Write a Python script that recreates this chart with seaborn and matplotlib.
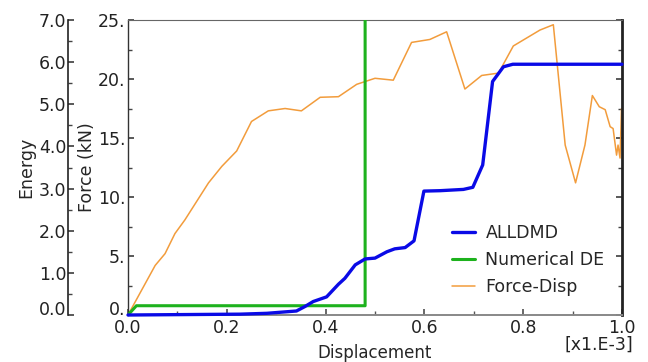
import numpy as np
import pandas as pd
import matplotlib
matplotlib.use("Agg")
import matplotlib.pyplot as plt
from matplotlib.ticker import MultipleLocator, FuncFormatter
from matplotlib.lines import Line2D
import seaborn as sns

sns.set_theme(style="white")
plt.rcParams["font.family"] = ["DejaVu Sans"]

# Force-displacement response (displacement in 1e-3 units, force in kN)
fd_disp = [0.0, 0.055, 0.075, 0.095, 0.115, 0.163, 0.19, 0.22, 0.25, 0.284,
           0.318, 0.351, 0.389, 0.426, 0.463, 0.5, 0.537, 0.574, 0.611, 0.645,
           0.682, 0.716, 0.75, 0.78, 0.834, 0.861, 0.885, 0.906, 0.925, 0.94,
           0.954, 0.966, 0.976, 0.982, 0.989, 0.992, 0.996, 0.999]
fd_force = [0.0, 4.2, 5.2, 6.9, 8.05, 11.2, 12.6, 13.9, 16.4, 17.3,
            17.5, 17.3, 18.45, 18.5, 19.55, 20.06, 19.9, 23.1, 23.35, 24.0,
            19.15, 20.3, 20.5, 22.8, 24.15, 24.6, 14.4, 11.2, 14.4, 18.6,
            17.65, 17.4, 15.96, 15.8, 13.55, 14.4, 13.3, 17.5]

# Damage dissipation energy ALLDMD
dmd_disp = [0.0, 0.227, 0.281, 0.341, 0.358, 0.375, 0.402, 0.426, 0.439, 0.46,
            0.48, 0.5, 0.524, 0.54, 0.561, 0.579, 0.599, 0.632, 0.679, 0.698,
            0.718, 0.738, 0.76, 0.779, 1.0]
dmd_energy = [0.0, 0.02, 0.04, 0.095, 0.2, 0.32, 0.43, 0.73, 0.87, 1.19,
              1.33, 1.35, 1.5, 1.57, 1.6, 1.76, 2.94, 2.95, 2.98, 3.03,
              3.56, 5.54, 5.89, 5.95, 5.95]

# Numerical dissipated energy
nde_disp = [0.0, 0.017, 0.48, 0.48]
nde_energy = [0.0, 0.22, 0.22, 50.0]

series_labels = ["ALLDMD", "Numerical DE", "Force-Disp"]
colors = {"ALLDMD": "#0a0ae6", "Numerical DE": "#1db21d", "Force-Disp": "#f29c3c"}

fd = pd.DataFrame({"disp": fd_disp, "value": fd_force})
dmd = pd.DataFrame({"disp": dmd_disp, "value": dmd_energy})
nde = pd.DataFrame({"disp": nde_disp, "value": nde_energy})

fig = plt.figure(figsize=(6.48, 3.62), dpi=100)
ax = fig.add_axes([128 / 648, 47 / 362, 494 / 648, 295 / 362])
ax2 = ax.twinx()

sns.lineplot(data=fd, x="disp", y="value", ax=ax, color=colors["Force-Disp"],
             lw=1.1, sort=False, estimator=None)
sns.lineplot(data=nde, x="disp", y="value", ax=ax2, color=colors["Numerical DE"],
             lw=2.2, sort=False, estimator=None)
sns.lineplot(data=dmd, x="disp", y="value", ax=ax2, color=colors["ALLDMD"],
             lw=2.4, sort=False, estimator=None, clip_on=False)

fs = 12.5
# Main (force) axis
ax.set_xlim(0, 1.0)
ax.set_ylim(0, 25)
ax.xaxis.set_major_locator(MultipleLocator(0.2))
ax.xaxis.set_minor_locator(MultipleLocator(0.1))
ax.yaxis.set_major_locator(MultipleLocator(5))
ax.yaxis.set_minor_locator(MultipleLocator(2.5))
ax.xaxis.set_major_formatter(FuncFormatter(lambda v, p: f"{v:.1f}"))
ax.yaxis.set_major_formatter(FuncFormatter(lambda v, p: f"{v:.0f}."))
ax.tick_params(axis="x", which="both", direction="in", bottom=True, top=False,
               labelsize=fs, pad=3, color="#555555")
ax.tick_params(axis="x", which="major", length=4)
ax.tick_params(axis="x", which="minor", length=3)
ax.tick_params(axis="y", which="both", direction="in", left=True, right=True,
               labelsize=fs, pad=2, color="#444444")
ax.tick_params(axis="y", which="major", length=4)
ax.tick_params(axis="y", which="minor", length=3)
ax.set_xlabel("Displacement", fontsize=12, labelpad=5)
ax.set_ylabel("Force (kN)", fontsize=12.5, labelpad=1)
ax.text((633 - 128) / 494, -0.07, "[x1.E-3]", transform=ax.transAxes, ha="right",
        va="top", fontsize=12.5, color="#222222")

ax.spines["top"].set_color("#666666")
ax.spines["top"].set_linewidth(0.8)
ax.spines["left"].set_color("#333333")
ax.spines["left"].set_linewidth(1.0)
ax.spines["bottom"].set_color("#888888")
ax.spines["bottom"].set_linewidth(1.4)
ax.spines["right"].set_color("#222222")
ax.spines["right"].set_linewidth(2.0)

# Energy axis, offset to the left of the force axis
ax2.set_ylim(0, 7)
ax2.yaxis.set_ticks_position("left")
ax2.yaxis.set_label_position("left")
ax2.spines["left"].set_visible(True)
ax2.spines["left"].set_position(("axes", -60 / 494))
ax2.spines["left"].set_color("#222222")
ax2.spines["left"].set_linewidth(1.2)
for side in ("right", "top", "bottom"):
    ax2.spines[side].set_visible(False)
ax2.yaxis.set_major_locator(MultipleLocator(1))
ax2.yaxis.set_minor_locator(MultipleLocator(0.5))
ax2.yaxis.set_major_formatter(FuncFormatter(lambda v, p: f"{v:.1f}"))
ax2.tick_params(axis="y", which="both", direction="in", labelsize=fs, pad=1,
                color="#444444")
ax2.tick_params(axis="y", which="major", length=4)
ax2.tick_params(axis="y", which="minor", length=3)
ax2.set_ylabel("Energy", fontsize=12.5, labelpad=3)
ax2.set_xlabel("")

fig.canvas.draw()
for t in ax.get_xticklabels() + ax.get_yticklabels() + ax2.get_yticklabels():
    t.set_color("#222222")

# zero labels on both vertical axes sit on their tick line
for axis in (ax.yaxis, ax2.yaxis):
    for tick in axis.get_major_ticks():
        if abs(tick.get_loc()) < 1e-9:
            tick.label1.set_verticalalignment("baseline")

handles = [Line2D([], [], color=colors["ALLDMD"], lw=2.4),
           Line2D([], [], color=colors["Numerical DE"], lw=2.2),
           Line2D([], [], color=colors["Force-Disp"], lw=1.1)]
ax2.legend(handles, series_labels, loc="lower left", bbox_to_anchor=(0.625, 0.012),
           frameon=False, fontsize=12.5, handlelength=1.3, handletextpad=0.6,
           labelspacing=0.5)

fig.savefig("out.png", dpi=100)
